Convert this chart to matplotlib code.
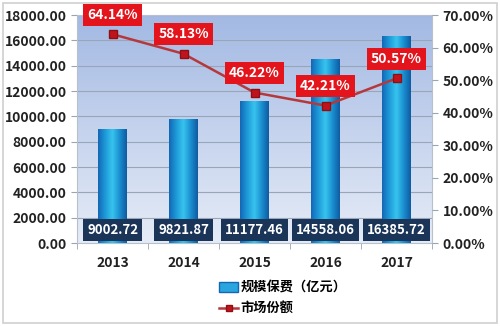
import matplotlib
matplotlib.use("Agg")
import matplotlib.pyplot as plt
import numpy as np
from matplotlib.colors import LinearSegmentedColormap
from matplotlib.patches import Rectangle
from matplotlib.lines import Line2D

plt.rcParams['font.family'] = ['Noto Sans CJK SC', 'DejaVu Sans']
plt.rcParams['font.weight'] = 'bold'

years = ['2013', '2014', '2015', '2016', '2017']
premium = [9002.72, 9821.87, 11177.46, 14558.06, 16385.72]
share = [64.14, 58.13, 46.22, 42.21, 50.57]
premium_labels = ['9002.72', '9821.87', '11177.46', '14558.06', '16385.72']
share_labels = ['64.14%', '58.13%', '46.22%', '42.21%', '50.57%']

fig = plt.figure(figsize=(5.0, 3.26), dpi=100)
fig.patches.append(Rectangle((0.006, 0.01), 0.988, 0.982, transform=fig.transFigure,
                             fill=False, edgecolor='#d0d0d0', linewidth=1.2))

ax = fig.add_axes([0.154, 0.2546, 0.71, 0.699])
x = np.arange(len(years))
ax.set_xlim(-0.5, len(years) - 0.5)
ax.set_ylim(0, 18000)

# plot area gradient background
bg = LinearSegmentedColormap.from_list('bg', ['#e6ecf7', '#a3b9e3'])
ax.imshow(np.linspace(0, 1, 256).reshape(-1, 1), cmap=bg, aspect='auto',
          extent=[-0.5, len(years) - 0.5, 0, 18000], origin='lower', zorder=0)

for v in range(2000, 18001, 2000):
    ax.axhline(v, color='#9aa5b8', linewidth=0.8, zorder=1)

# cylindrical bars
cyl = LinearSegmentedColormap.from_list('cyl', ['#1467b5', '#1e9ad8', '#38c4ee', '#1a8fd0', '#0f5aa0'])
bars = ax.bar(x, premium, width=0.4, color='none', zorder=2)
for b in bars:
    im = ax.imshow(np.linspace(0, 1, 128).reshape(1, -1), cmap=cyl, aspect='auto',
                   extent=[b.get_x(), b.get_x() + b.get_width(), 0, b.get_height()], zorder=2)
    im.set_clip_path(b)

for xi, lab in zip(x, premium_labels):
    ax.text(xi, 1000, lab, ha='center', va='center', color='white', fontsize=9.5,
            fontweight='bold', zorder=6,
            bbox=dict(boxstyle='square,pad=0.3', facecolor='#1b3558', edgecolor='none'))

ax.set_xticks(x)
ax.set_xticklabels(years, fontsize=10, fontweight='bold', color='#222222')
ax.set_xticks(np.arange(-0.5, len(years)), minor=True)
ax.tick_params(axis='x', which='major', length=0, pad=9)
ax.tick_params(axis='x', which='minor', length=4, color='#9aa4b4')
ax.set_yticks(range(0, 18001, 2000))
ax.set_yticklabels(['%.2f' % v for v in range(0, 18001, 2000)], fontsize=10,
                   fontweight='bold', color='#222222')
ax.tick_params(axis='y', length=4, color='#9aa4b4')
for s in ax.spines.values():
    s.set_color('#b8c0cc')

ax2 = ax.twinx()
ax2.set_ylim(0, 70)
ax2.plot(x, share, color='#b5383c', linewidth=1.8, marker='s', markersize=6,
         markerfacecolor='#c0141c', markeredgecolor='#8e1015', zorder=5)
for xi, yi, lab in zip(x, share, share_labels):
    ax2.annotate(lab, (xi, yi), xytext=(0, 14), textcoords='offset points',
                 ha='center', va='center', color='white', fontsize=10, fontweight='bold',
                 bbox=dict(boxstyle='square,pad=0.3', facecolor='#e3141c', edgecolor='none'),
                 zorder=7, annotation_clip=False)
ax2.set_yticks(range(0, 71, 10))
ax2.set_yticklabels(['%.2f%%' % v for v in range(0, 71, 10)], fontsize=10,
                    fontweight='bold', color='#222222')
ax2.tick_params(axis='y', length=4, color='#9aa4b4')
for s in ax2.spines.values():
    s.set_visible(False)

handles = [Rectangle((0, 0), 1, 1, facecolor='#2aa6df', edgecolor='#1467b5'),
           Line2D([0], [0], color='#b5383c', linewidth=1.8, marker='s', markersize=5,
                  markerfacecolor='#c0141c', markeredgecolor='#8e1015')]
fig.legend(handles, ['规模保费（亿元）', '市场份额'], loc='center left',
           bbox_to_anchor=(0.415, 0.086), frameon=False,
           handlelength=1.4, handletextpad=0.2, labelspacing=0.5,
           prop={'weight': 'bold', 'size': 9.5})

fig.savefig('out.png', dpi=100)
